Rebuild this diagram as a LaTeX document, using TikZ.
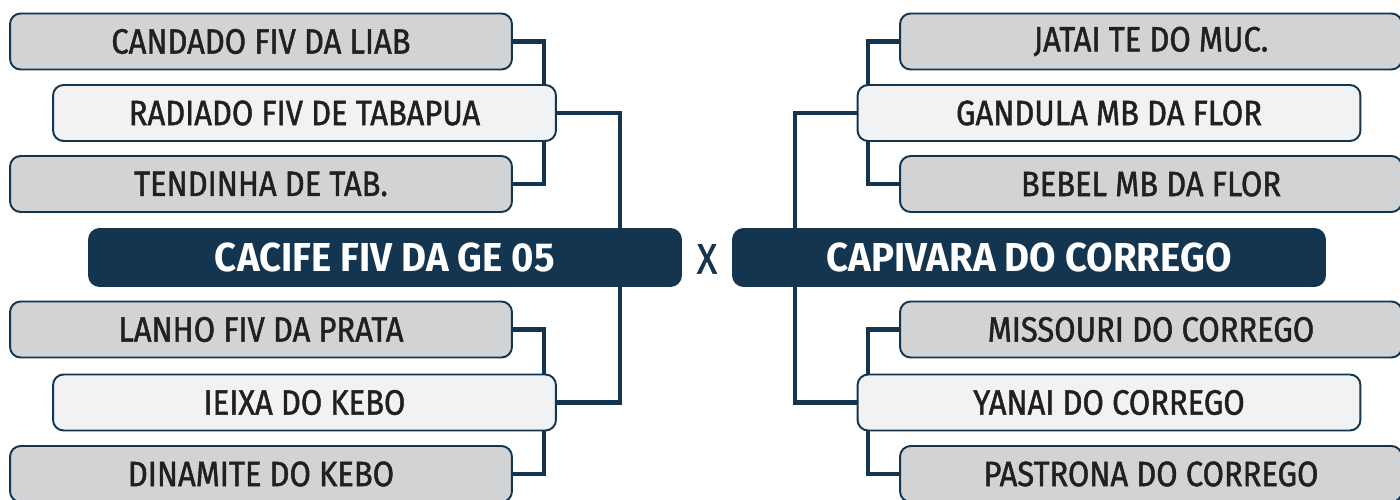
\documentclass[tikz,border=0pt]{standalone}
\usepackage{fontspec}
\setmainfont{Fira Sans}
\newfontfamily\rotulo{Fira Sans}[FakeStretch=0.88,FakeBold=1.3]
\newfontfamily\titulo{Fira Sans Bold}[FakeStretch=0.95]
\usepackage{tikz}
\usetikzlibrary{backgrounds}
\definecolor{navy}{HTML}{13354F}
\definecolor{cinza}{HTML}{D1D3D4}
\definecolor{claro}{HTML}{F0F2F4}
\definecolor{tinta}{HTML}{231F20}

\begin{document}
\begin{tikzpicture}[x=0.02cm,y=-0.02cm,
  caixa/.style={draw=navy,line width=1.1pt,rounded corners=6pt,minimum height=1.12cm,
    inner sep=0pt,text=tinta,font=\rotulo\fontsize{20}{20}\selectfont},
  cinzabox/.style={caixa,fill=cinza,minimum width=10.04cm},
  clarobox/.style={caixa,fill=claro,minimum width=10.06cm},
  finalbox/.style={caixa,fill=navy,text=white,minimum width=11.84cm,minimum height=1.14cm,
    font=\titulo\fontsize{23}{23}\selectfont},
  liga/.style={draw=navy,line width=2.3pt}]
\useasboundingbox (0,0) rectangle (1400,500);
% lado esquerdo
\node[cinzabox] (candado) at (261,41.5) {CANDADO FIV DA LIAB};
\node[clarobox] (radiado) at (304.5,113) {RADIADO FIV DE TABAPUA};
\node[cinzabox] (tendinha) at (261,184) {TENDINHA DE TAB.};
\node[finalbox] (cacife) at (385,257.5) {CACIFE FIV DA GE 05};
\node[cinzabox] (lanho) at (261,329.5) {LANHO FIV DA PRATA};
\node[clarobox] (ieixa) at (304.5,402.5) {IEIXA DO KEBO};
\node[cinzabox] (dinamite) at (261,474) {DINAMITE DO KEBO};
% lado direito
\node[cinzabox] (jatai) at (1151,41.5) {JATAI TE DO MUC.};
\node[clarobox] (gandula) at (1109,113) {GANDULA MB DA FLOR};
\node[cinzabox] (bebel) at (1151,184) {BEBEL MB DA FLOR};
\node[finalbox] (capivara) at (1029,257.5) {CAPIVARA DO CORREGO};
\node[cinzabox] (missouri) at (1151,329.5) {MISSOURI DO CORREGO};
\node[clarobox] (yanai) at (1109,402.5) {YANAI DO CORREGO};
\node[cinzabox] (pastrona) at (1151,474) {PASTRONA DO CORREGO};
\node[text=navy,font=\rotulo\fontsize{24}{24}\selectfont] (vs) at (707,259) {X};
% ligacoes
\coordinate (eixoL) at (620,0);
\coordinate (eixoR) at (795,0);
\begin{pgfonlayer}{background}
\draw[liga] (candado.east) -- ++(31,0) |- (tendinha.east);
\draw[liga] (lanho.east) -- ++(31,0) |- (dinamite.east);
\draw[liga] (radiado.east) -| (eixoL |- cacife.north);
\draw[liga] (ieixa.east) -| (eixoL |- cacife.south);
\draw[liga] (jatai.west) -- ++(-31,0) |- (bebel.west);
\draw[liga] (missouri.west) -- ++(-31,0) |- (pastrona.west);
\draw[liga] (gandula.west) -| (eixoR |- capivara.north);
\draw[liga] (yanai.west) -| (eixoR |- capivara.south);
\end{pgfonlayer}
\end{tikzpicture}
\end{document}
